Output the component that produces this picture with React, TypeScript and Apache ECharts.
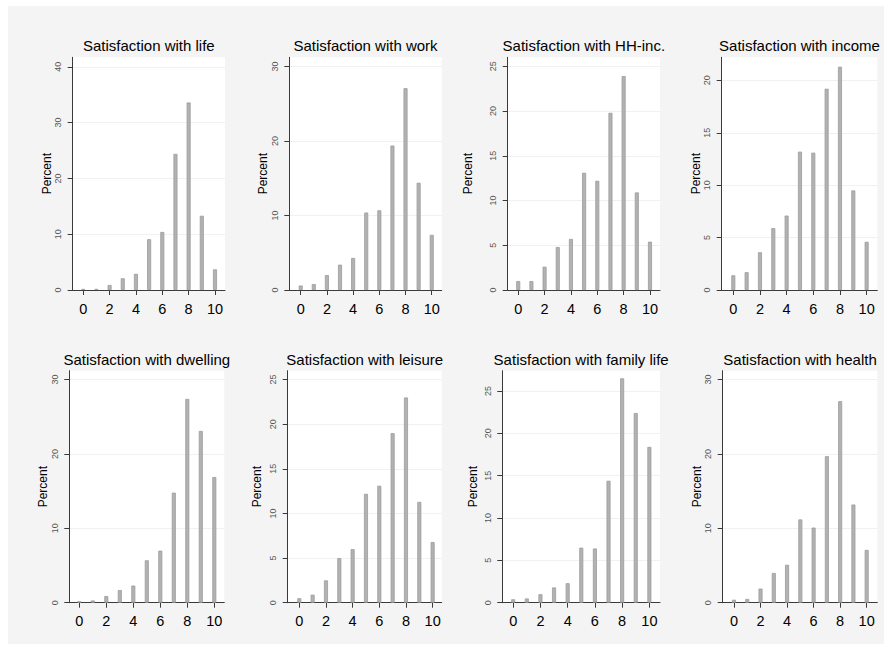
import React, { useEffect, useRef } from "react";
import * as echarts from "echarts";

// ---- Data ----
const scores = [0, 1, 2, 3, 4, 5, 6, 7, 8, 9, 10];
const xTickLabels = [0, 2, 4, 6, 8, 10];

const lifeValues = [0.2, 0.2, 0.9, 2.1, 2.9, 9.1, 10.4, 24.4, 33.6, 13.3, 3.7];
const workValues = [0.6, 0.8, 2.0, 3.4, 4.3, 10.4, 10.7, 19.4, 27.1, 14.4, 7.4];
const hhIncValues = [1.0, 1.0, 2.6, 4.8, 5.7, 13.1, 12.2, 19.8, 23.9, 10.9, 5.4];
const incomeValues = [1.4, 1.7, 3.6, 5.9, 7.1, 13.2, 13.1, 19.2, 21.3, 9.5, 4.6];
const dwellingValues = [0.2, 0.3, 0.9, 1.7, 2.3, 5.7, 7.0, 14.8, 27.4, 23.1, 16.9];
const leisureValues = [0.5, 0.9, 2.5, 5.0, 6.0, 12.2, 13.1, 19.0, 23.0, 11.3, 6.8];
const familyValues = [0.4, 0.5, 1.0, 1.8, 2.3, 6.5, 6.4, 14.4, 26.5, 22.4, 18.4];
const healthValues = [0.4, 0.5, 1.9, 4.0, 5.1, 11.2, 10.1, 19.7, 27.1, 13.2, 7.1];

const panelTitles = [
  "Satisfaction with life",
  "Satisfaction with work",
  "Satisfaction with HH-inc.",
  "Satisfaction with income",
  "Satisfaction with dwelling",
  "Satisfaction with leisure",
  "Satisfaction with family life",
  "Satisfaction with health",
];
const panelValues = [
  lifeValues, workValues, hhIncValues, incomeValues,
  dwellingValues, leisureValues, familyValues, healthValues,
];
const yAxisMax = [41.7, 31.25, 26, 22.2, 31.2, 26, 27.4, 31.2];
const yTickStep = [10, 10, 5, 5, 10, 5, 5, 10];
const yAxisTitle = "Percent";

// ---- Layout ----
const panelLayout = [
  { left: 72.7, top: 57.3, width: 152.3, height: 232.7, xMin: -0.8, xMax: 10.76, nameGap: 20 },
  { left: 289.3, top: 57.3, width: 152.4, height: 232.7, xMin: -0.87, xMax: 10.76, nameGap: 20 },
  { left: 507.7, top: 57.3, width: 152.3, height: 232.7, xMin: -0.8, xMax: 10.76, nameGap: 34 },
  { left: 721.7, top: 57.3, width: 155.6, height: 232.7, xMin: -0.87, xMax: 10.8, nameGap: 17.5 },
  { left: 69.3, top: 370.7, width: 155, height: 232, xMin: -0.74, xMax: 10.74, nameGap: 18 },
  { left: 287.7, top: 370.7, width: 154, height: 232, xMin: -0.87, xMax: 10.68, nameGap: 25 },
  { left: 502.3, top: 370.7, width: 157.7, height: 232, xMin: -0.8, xMax: 10.78, nameGap: 23 },
  { left: 722.7, top: 370.7, width: 154.6, height: 232, xMin: -0.85, xMax: 10.8, nameGap: 19 },
];

const FONT = "'Liberation Sans', Arial, sans-serif";

export default function App() {
  const ref = useRef<HTMLDivElement>(null);

  useEffect(() => {
    if (!ref.current) return;
    const chart = echarts.init(ref.current, null, { renderer: "svg" });

    const grids: any[] = [];
    const xAxes: any[] = [];
    const yAxes: any[] = [];
    const series: any[] = [];
    const titles: any[] = [];

    panelLayout.forEach((p, i) => {
      grids.push({
        left: p.left,
        top: p.top,
        width: p.width,
        height: p.height,
        show: true,
        backgroundColor: "#ffffff",
        borderWidth: 0,
        containLabel: false,
      });
      xAxes.push({
        type: "value",
        gridIndex: i,
        min: p.xMin,
        max: p.xMax,
        axisLine: { show: true, onZero: false, lineStyle: { color: "#3a3a3a", width: 1 } },
        axisTick: {
          show: true,
          length: 5,
          customValues: xTickLabels,
          lineStyle: { color: "#3a3a3a" },
        },
        axisLabel: {
          show: true,
          customValues: xTickLabels,
          margin: 11,
          fontSize: 14.5,
          color: "#000",
          fontFamily: FONT,
        },
        splitLine: { show: false },
      });
      const ticks: number[] = [];
      for (let v = 0; v <= yAxisMax[i] + 1e-9; v += yTickStep[i]) ticks.push(v);
      yAxes.push({
        type: "value",
        gridIndex: i,
        min: 0,
        max: yAxisMax[i],
        interval: yTickStep[i],
        name: yAxisTitle,
        nameLocation: "middle",
        nameRotate: 90,
        nameGap: p.nameGap,
        nameTextStyle: { fontSize: 12, color: "#000", fontFamily: FONT },
        axisLine: { show: true, onZero: false, lineStyle: { color: "#3a3a3a", width: 1 } },
        axisTick: {
          show: true,
          length: 5,
          customValues: ticks,
          lineStyle: { color: "#3a3a3a" },
        },
        axisLabel: {
          show: true,
          customValues: ticks,
          rotate: 90,
          margin: 10,
          fontSize: 9,
          color: "#555",
          fontFamily: FONT,
        },
        splitLine: { show: true, lineStyle: { color: "#f1f1f1", width: 1 } },
      });
      series.push({
        type: "bar",
        xAxisIndex: i,
        yAxisIndex: i,
        barWidth: 4,
        data: scores.map((s, k) => [s, panelValues[i][k]]),
        itemStyle: { color: "#b2b2b2", borderColor: "#9c9c9c", borderWidth: 0.8 },
        silent: true,
      });
      titles.push({
        text: panelTitles[i],
        left: p.left + p.width / 2,
        top: p.top - 19,
        padding: 0,
        textAlign: "center",
        textStyle: { fontSize: 15, fontWeight: "normal", color: "#000", fontFamily: FONT },
      });
    });

    chart.setOption({
      animation: false,
      backgroundColor: "#ffffff",
      graphic: [
        {
          type: "rect",
          z: -10,
          silent: true,
          shape: { x: 8, y: 6, width: 876, height: 638 },
          style: { fill: "#f4f4f4" },
        },
      ],
      title: titles,
      grid: grids,
      xAxis: xAxes,
      yAxis: yAxes,
      series,
    });

    return () => chart.dispose();
  }, []);

  return (
    <div
      ref={ref}
      style={{ position: "absolute", left: 0, top: 0, width: 893, height: 655 }}
    />
  );
}
